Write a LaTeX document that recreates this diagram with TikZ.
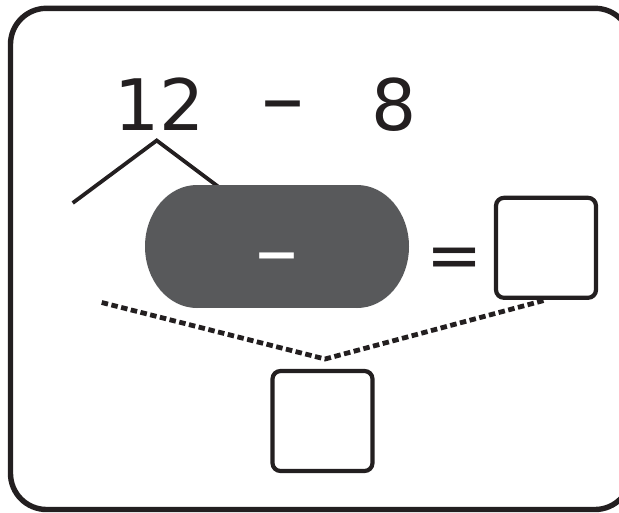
\documentclass[tikz,border=0pt]{standalone}
\usepackage{fontspec}
\setmainfont{DejaVu Sans}
\definecolor{ink}{HTML}{231F20}
\definecolor{pillgray}{HTML}{58595B}
\tikzset{
  bigtxt/.style={inner sep=0pt, text=ink, font=\fontsize{71}{80}\selectfont},
  dashtxt/.style={inner sep=0pt, text=ink, font=\fontsize{86}{90}\selectfont},
  answerbox/.style={draw=ink, line width=4.2pt, rounded corners=8pt, minimum width=100pt, minimum height=100pt, inner sep=0pt},
  bracketline/.style={draw=ink, line width=3.8pt},
  dotline/.style={draw=ink, line width=4.8pt, dash pattern=on 6.5pt off 3.5pt},
  frameline/.style={draw=ink, line width=5.4pt, rounded corners=36pt}
}
\begin{document}
\begin{tikzpicture}[x=1pt,y=-1pt]
\useasboundingbox (0,0) rectangle (619,512);
% outer frame
\draw[frameline] (10.5,8.3) rectangle (631,509.5);
% top expression
\node[bigtxt, anchor=base] (n12) at (160,130) {12};
\node[dashtxt, anchor=base] (mn) at (282.5,127) {–};
\node[bigtxt, anchor=base] (n8) at (394,130) {8};
% bracket under 12
\coordinate (bl) at (72.7,203);
\coordinate (bapex) at (156.7,140.5);
\coordinate (br) at (228,194);
\draw[bracketline] (bl) -- (bapex) -- (br);
% pill
\fill[pillgray] (197,185) rectangle (357,308);
\fill[pillgray] (197,246.5) ellipse[x radius=52, y radius=61.5];
\fill[pillgray] (357,246.5) ellipse[x radius=52, y radius=61.5];
\node[dashtxt, text=white, anchor=base] (pill) at (276.5,279) {–};
% equals and answer box
\node[bigtxt, font=\fontsize{67}{80}\selectfont, anchor=base] (eq) at (454.5,278) {=};
\node[answerbox] (rbox) at (546,247.8) {};
% bottom box
\node[answerbox] (bbox) at (322.5,421) {};
% dotted lines
\coordinate (dl) at (101.7,302.5);
\coordinate (dapex) at (325,359);
\draw[dotline] (dl) -- (dapex) -- (rbox.south);
\end{tikzpicture}
\end{document}
